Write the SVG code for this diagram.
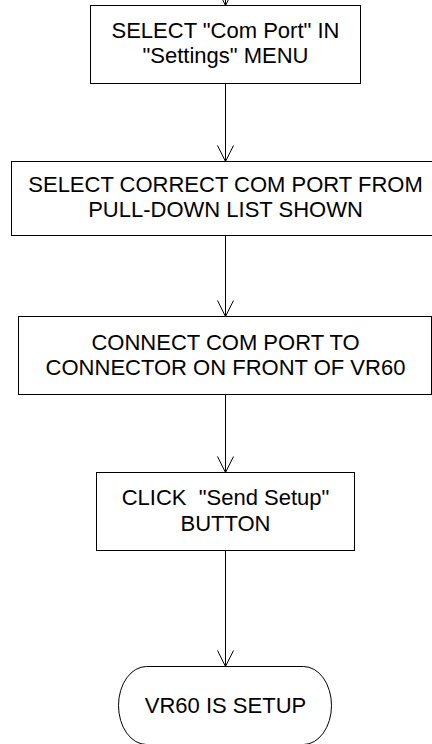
<svg xmlns="http://www.w3.org/2000/svg" width="432" height="744" viewBox="0 0 432 744">
<style>
.box{fill:#fff;stroke:#000;stroke-width:1}
.t{font-family:"Liberation Sans",Arial,sans-serif;font-size:22px;fill:#000;text-anchor:middle;white-space:pre}
.c{fill:none;stroke:#000;stroke-width:1}
</style>
<defs>
<marker id="ah" markerUnits="userSpaceOnUse" markerWidth="20" markerHeight="20" refX="16" refY="8" orient="auto" overflow="visible">
<path d="M0,0 L16,8 L0,16" fill="none" stroke="#000" stroke-width="1"/>
</marker>
</defs>
<g id="connectors">
<path class="c" d="M225.5,-20 V5.5" marker-end="url(#ah)"/>
<path class="c" d="M225.5,83.5 V161.5" marker-end="url(#ah)"/>
<path class="c" d="M225.5,235.5 V316.5" marker-end="url(#ah)"/>
<path class="c" d="M225.5,394.5 V472.5" marker-end="url(#ah)"/>
<path class="c" d="M225.5,550.5 V666.5" marker-end="url(#ah)"/>
</g>
<g id="n1">
<rect class="box" x="90.5" y="5.5" width="270" height="78"/>
<text class="t" x="225.5" y="37.5">SELECT "Com Port" IN</text>
<text class="t" x="225.5" y="62.5">"Settings" MENU</text>
</g>
<g id="n2">
<rect class="box" x="11.5" y="161.5" width="428" height="74"/>
<text class="t" x="225.5" y="192">SELECT CORRECT COM PORT FROM</text>
<text class="t" x="225.5" y="217">PULL-DOWN LIST SHOWN</text>
</g>
<g id="n3">
<rect class="box" x="18.5" y="316.5" width="413" height="78"/>
<text class="t" x="225.5" y="349.5">CONNECT COM PORT TO</text>
<text class="t" x="225.5" y="374.5">CONNECTOR ON FRONT OF VR60</text>
</g>
<g id="n4">
<rect class="box" x="96.5" y="472.5" width="258" height="78"/>
<text class="t" x="225.5" y="505">CLICK  "Send Setup"</text>
<text class="t" x="225.5" y="530.5">BUTTON</text>
</g>
<g id="n5">
<rect class="box" x="118.5" y="666.5" width="213" height="78" rx="28" ry="39"/>
<text class="t" x="225.5" y="713">VR60 IS SETUP</text>
</g>
</svg>
